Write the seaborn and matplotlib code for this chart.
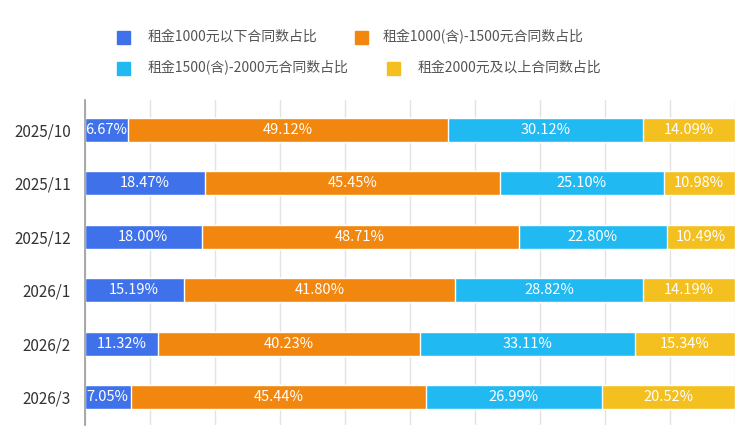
import seaborn as sns
import matplotlib.pyplot as plt
import pandas as pd
from matplotlib.patches import Rectangle

months = ["2025/10", "2025/11", "2025/12", "2026/1", "2026/2", "2026/3"]
below_1000 = [6.67, 18.47, 18.00, 15.19, 11.32, 7.05]
r1000_1500 = [49.12, 45.45, 48.71, 41.80, 40.23, 45.44]
r1500_2000 = [30.12, 25.10, 22.80, 28.82, 33.11, 26.99]
above_2000 = [14.09, 10.98, 10.49, 14.19, 15.34, 20.52]

names = ["租金1000元以下合同数占比", "租金1000(含)-1500元合同数占比",
         "租金1500(含)-2000元合同数占比", "租金2000元及以上合同数占比"]
colors = ["#3f72ea", "#f1870f", "#21b9f1", "#f3c01f"]

sns.set_theme(style="white")
plt.rcParams['font.family'] = ['Noto Sans CJK SC', 'DejaVu Sans']

df = pd.DataFrame({"month": months, "s1": below_1000, "s2": r1000_1500,
                   "s3": r1500_2000, "s4": above_2000})
series = ["s1", "s2", "s3", "s4"]
cum = df[series].cumsum(axis=1)

fig = plt.figure(figsize=(7.5, 4.38), dpi=100)
ax = fig.add_axes([0.113, 0.03, 0.867, 0.742])

# draw cumulative totals from widest to narrowest so they stack
for k in reversed(range(4)):
    sns.barplot(x=cum[series[k]], y=df["month"], color=colors[k], orient="h",
                width=0.45, saturation=1, ax=ax, zorder=2)

for i in range(len(months)):
    left = 0
    for k in range(4):
        w = df[series[k]][i]
        ax.text(left + w / 2, i, f"{w:.2f}%", ha="center", va="center",
                color="white", fontsize=10.5, zorder=3)
        left += w

ax.set_xlim(0, 100)
ax.set_ylim(5.52, -0.56)
ax.set_xticks(range(0, 101, 10))
ax.set_xticklabels([])
ax.tick_params(axis="x", length=0)
ax.tick_params(axis="y", length=0, labelsize=11, labelcolor="#333333", pad=10)
ax.set_xlabel("")
ax.set_ylabel("")
ax.grid(axis="x", color="#e3e3e3", linewidth=1, zorder=0)
for s in ["top", "right", "bottom"]:
    ax.spines[s].set_visible(False)
ax.spines["left"].set_color("#9a9a9a")
ax.spines["left"].set_linewidth(1.2)

# legend, laid out in two flowing rows
legend_pos = [(117, 37, 148), (355, 37, 383), (117, 68, 148), (387, 68, 418)]
W, H = 750, 438
for k, (mx, my, tx) in enumerate(legend_pos):
    fig.add_artist(Rectangle((mx / W, 1 - (my + 6.5) / H), 13 / W, 13 / H,
                             transform=fig.transFigure, color=colors[k]))
    fig.text(tx / W, 1 - my / H, names[k], ha="left", va="center",
             fontsize=10, color="#555555")

fig.savefig("out.png", dpi=100)
